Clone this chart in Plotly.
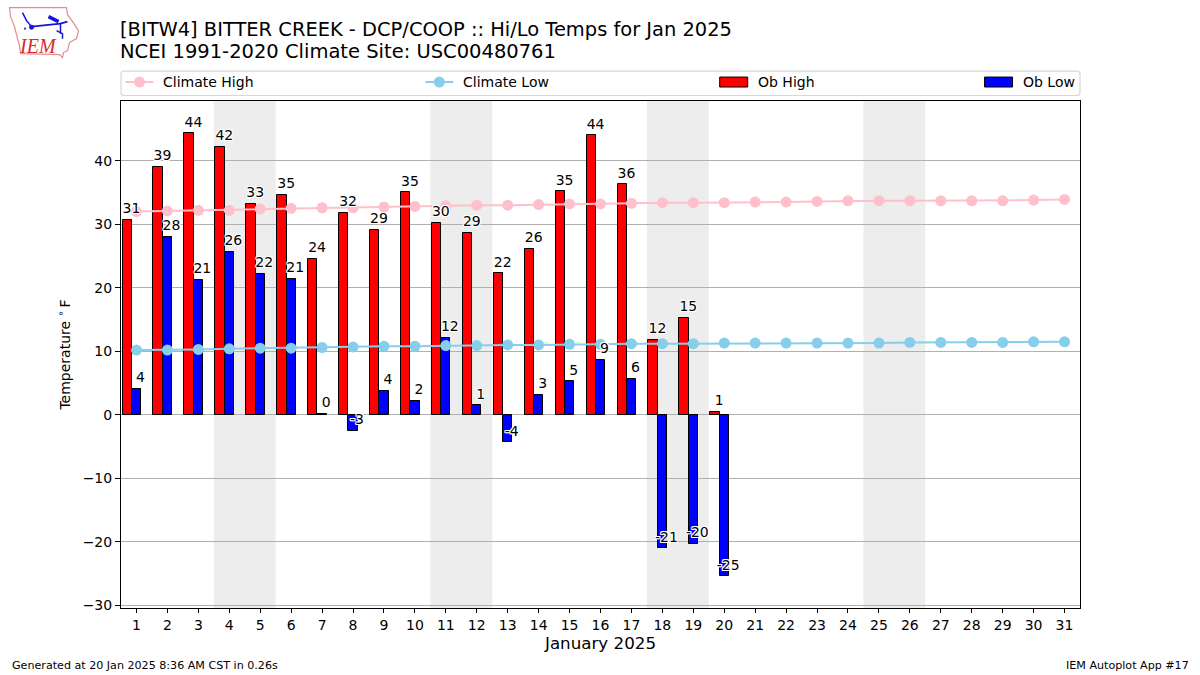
import plotly.graph_objects as go

days = list(range(1, 32))
ob_days = list(range(1, 21))
climate_high = [32.0,32.1,32.2,32.2,32.4,32.5,32.6,32.6,32.7,32.8,32.9,33.0,33.0,33.1,33.2,33.2,33.3,33.4,33.4,33.4,33.5,33.5,33.6,33.7,33.7,33.7,33.7,33.7,33.7,33.8,33.9]
climate_low = [10.2,10.2,10.3,10.4,10.5,10.5,10.6,10.7,10.8,10.8,10.9,10.9,11.0,11.0,11.1,11.1,11.2,11.2,11.2,11.3,11.3,11.3,11.3,11.3,11.3,11.4,11.4,11.4,11.4,11.5,11.5]
ob_high = [30.7,39.0,44.3,42.2,33.2,34.6,24.6,31.8,29.1,35.0,30.2,28.6,22.3,26.1,35.2,44.0,36.3,11.8,15.3,0.5]
ob_low = [4.1,28.0,21.3,25.7,22.2,21.4,0.2,-2.5,3.8,2.2,12.1,1.5,-4.3,3.2,5.3,8.7,5.7,-21.0,-20.3,-25.4]
high_labels = ["31","39","44","42","33","35","24","32","29","35","30","29","22","26","35","44","36","12","15","1"]
low_labels = ["4","28","21","26","22","21","0","-3","4","2","12","1","-4","3","5","9","6","-21","-20","-25"]
weekends = [(3.5,5.5),(10.5,12.5),(17.5,19.5),(24.5,26.5)]
title_line1 = "[BITW4] BITTER CREEK - DCP/COOP :: Hi/Lo Temps for Jan 2025"
title_line2 = "NCEI 1991-2020 Climate Site: USC00480761"
FONT = "DejaVu Sans"
PINK, SKY, RED, BLUE = "#ffc0cb", "#87ceeb", "#ff0000", "#0000ff"
OUTLINE = "-1px 0 0 #fff,1px 0 0 #fff,0 -1px 0 #fff,0 1px 0 #fff,-1px -1px 0 #fff,1px 1px 0 #fff,-1px 1px 0 #fff,1px -1px 0 #fff"

L, T, W, H = 120.5, 100.5, 959.5, 508.0
def px(x): return (x - L) / W
def py(y): return (T + H - y) / H
def path(pts, close=False):
    s = "M " + " L ".join(f"{px(a):.4f},{py(b):.4f}" for a, b in pts)
    return s + (" Z" if close else "")
def ptext(text, x, y, size, anchor="left", color="black", family=FONT):
    pad = {"left": -3, "right": 3, "center": 0}[anchor]
    return dict(text=text, xref="paper", yref="paper", x=px(x + pad), y=py(y), xanchor=anchor, yanchor="middle",
                showarrow=False, font=dict(family=family, size=size, color=color))

fig = go.Figure()
fig.add_trace(go.Bar(x=ob_days, y=ob_high, name="Ob High", width=0.3, offset=-0.45,
                     marker=dict(color=RED, line=dict(color="black", width=1))))
fig.add_trace(go.Bar(x=ob_days, y=ob_low, name="Ob Low", width=0.3, offset=-0.15,
                     marker=dict(color=BLUE, line=dict(color="black", width=1))))
fig.add_trace(go.Scatter(x=days, y=climate_high, name="Climate High", mode="lines+markers",
                         line=dict(color=PINK, width=2), marker=dict(color=PINK, size=11)))
fig.add_trace(go.Scatter(x=days, y=climate_low, name="Climate Low", mode="lines+markers",
                         line=dict(color=SKY, width=2), marker=dict(color=SKY, size=11)))
fig.add_trace(go.Scatter(x=[d - 0.16 for d in ob_days], y=[v + 0.5 for v in ob_high], text=high_labels,
                         mode="text", textposition="top center", hoverinfo="skip",
                         textfont=dict(family=FONT, size=14, color="black", shadow=OUTLINE), cliponaxis=False))
fig.add_trace(go.Scatter(x=[d + 0.13 for d in ob_days], y=[v + 0.5 for v in ob_low], text=low_labels,
                         mode="text", textposition="top center", hoverinfo="skip",
                         textfont=dict(family=FONT, size=14, color="black", shadow=OUTLINE), cliponaxis=False))

shapes = [dict(type="rect", xref="x", yref="paper", x0=a, x1=b, y0=0, y1=1,
               fillcolor="rgba(211,211,211,0.4)", line_width=0, layer="below") for a, b in weekends]
annotations = [
    ptext(title_line2, 120, 50.5, 19.5),
    ptext("<i>IEM</i>", 37.5, 45, 20, "center", "#d82a2f", "Liberation Serif"),
    ptext("Generated at 20 Jan 2025 8:36 AM CST in 0.26s", 12, 666.5, 11.12),
    ptext("IEM Autoplot App #17", 1188, 666.5, 11.12, "right"),
]

# logo
logo_pink, logo_blue = "#e58a8f", "#1414dc"
outline = [(9,7),(66,7),(67,14),(72,21),(78,30),(76,38),(69,42),(67,50),(63,52),(62,57),(59,54),(20,53),(19,45),(17,38),(14,26),(10,16)]
shapes.append(dict(type="path", xref="paper", yref="paper", path=path(outline, True), line=dict(color=logo_pink, width=1.2)))
for seg, w in [([(22,12),(26,20),(31,26)],1.5),([(31,26),(60,23),(67,21)],2),([(48,16),(58,21)],3.5),([(60,22),(60,33)],1.5),([(56,30),(62,33),(62,38)],1.5),([(25,27),(24,29)],1.5)]:
    shapes.append(dict(type="path", xref="paper", yref="paper", path=path(seg), line=dict(color=logo_blue, width=w)))
shapes.append(dict(type="circle", xref="paper", yref="paper", x0=px(28.5), x1=px(33.5), y0=py(29), y1=py(24), fillcolor=logo_blue, line_width=0))

# legend box and entries, laid out as in the reference
x0, x1, y0, y1, r = 120.5, 1080, 70.5, 95, 3
box = (f"M {px(x0+r):.4f},{py(y0):.4f} L {px(x1-r):.4f},{py(y0):.4f} Q {px(x1):.4f},{py(y0):.4f} {px(x1):.4f},{py(y0+r):.4f} "
       f"L {px(x1):.4f},{py(y1-r):.4f} Q {px(x1):.4f},{py(y1):.4f} {px(x1-r):.4f},{py(y1):.4f} "
       f"L {px(x0+r):.4f},{py(y1):.4f} Q {px(x0):.4f},{py(y1):.4f} {px(x0):.4f},{py(y1-r):.4f} "
       f"L {px(x0):.4f},{py(y0+r):.4f} Q {px(x0):.4f},{py(y0):.4f} {px(x0+r):.4f},{py(y0):.4f} Z")
shapes.append(dict(type="path", xref="paper", yref="paper", path=box, fillcolor="white", line=dict(color="#d8d8d8", width=1.2)))
ly = 81.5
for name, color, sx in [("Climate High", PINK, 125), ("Climate Low", SKY, 425)]:
    shapes.append(dict(type="line", xref="paper", yref="paper", x0=px(sx), x1=px(sx+28), y0=py(ly), y1=py(ly), line=dict(color=color, width=2)))
    shapes.append(dict(type="circle", xref="paper", yref="paper", x0=px(sx+8.5), x1=px(sx+19.5), y0=py(ly+5.5), y1=py(ly-5.5), fillcolor=color, line_width=0))
    annotations.append(ptext(name, sx+39, ly, 14))
for name, color, sx in [("Ob High", RED, 719.5), ("Ob Low", BLUE, 984.5)]:
    shapes.append(dict(type="rect", xref="paper", yref="paper", x0=px(sx), x1=px(sx+28), y0=py(ly+5), y1=py(ly-5), fillcolor=color, line=dict(color="black", width=1)))
    annotations.append(ptext(name, sx+39, ly, 14))

fig.update_layout(
    width=1200, height=675, autosize=False, showlegend=False,
    paper_bgcolor="white", plot_bgcolor="white",
    margin=dict(l=120.5, r=120, t=100.5, b=66.5, pad=0),
    font=dict(family=FONT, size=14, color="black"),
    barmode="overlay", bargap=0,
    title=dict(text=title_line1, x=120/1200, xanchor="left", y=1-29/675, yanchor="middle",
               font=dict(family=FONT, size=19.45, color="black")),
    xaxis=dict(range=[0.5, 31.5], tickmode="linear", tick0=1, dtick=1, ticks="outside", ticklen=4, tickcolor="black",
               showline=True, linecolor="black", linewidth=1, mirror=True, showgrid=False, zeroline=False,
               title=dict(text="January 2025", font=dict(size=16.7), standoff=4), tickfont=dict(size=14)),
    yaxis=dict(range=[-30.4, 49.4], tickmode="linear", tick0=0, dtick=10, ticks="outside", ticklen=5, tickcolor="black",
               showline=True, linecolor="black", linewidth=1, mirror=True, showgrid=True, gridcolor="#b0b0b0", gridwidth=1,
               zeroline=False, title=dict(text="Temperature <sup>∘</sup>\u2009F", font=dict(size=14), standoff=8), tickfont=dict(size=14)),
    shapes=shapes, annotations=annotations,
)
fig.write_html("out.html", config=dict(displayModeBar=False),
               post_script="document.body.style.margin='0';document.body.style.overflow='hidden';")
